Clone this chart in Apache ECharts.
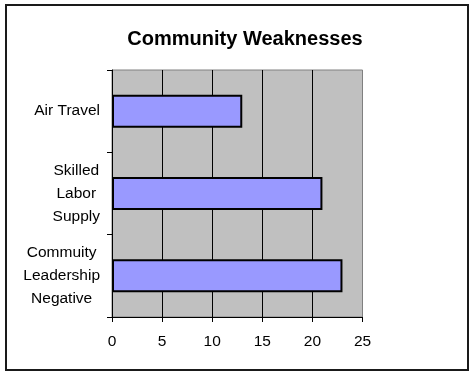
<!DOCTYPE html>
<html>
<head>
<meta charset="utf-8">
<script src="https://cdn.jsdelivr.net/npm/echarts@6/dist/echarts.min.js"></script>
<style>
html,body{margin:0;padding:0;background:#fff;}
#c{width:470px;height:375px;}
</style>
</head>
<body>
<div id="c"></div>
<script>
const title = 'Community Weaknesses';
const categories = ['Air Travel', 'Skilled\nLabor\nSupply', 'Commuity\nLeadership\nNegative'];
const values = [13, 21, 23];
const xTicks = { min: 0, max: 25, interval: 5 };

const chart = echarts.init(document.getElementById('c'), null, { renderer: 'canvas' });
const font = 'Arial, "Liberation Sans", sans-serif';
chart.setOption({
  backgroundColor: '#ffffff',
  animation: false,
  title: {
    text: title,
    left: 240,
    top: 24,
    textAlign: 'center',
    textStyle: { fontFamily: font, fontSize: 20, fontWeight: 'bold', color: '#000' }
  },
  graphic: [{
    type: 'rect',
    shape: { x: 6, y: 5, width: 462, height: 365 },
    style: { fill: 'none', stroke: '#1a1a1a', lineWidth: 2 },
    z: 100
  }],
  grid: {
    left: 112, right: 107.5, top: 70, bottom: 58,
    show: true, backgroundColor: '#C0C0C0', borderColor: '#808080', borderWidth: 1
  },
  xAxis: {
    type: 'value',
    min: xTicks.min, max: xTicks.max, interval: xTicks.interval,
    axisLine: { show: true, lineStyle: { color: '#000', width: 1 } },
    axisTick: { show: true, length: 5, lineStyle: { color: '#000' } },
    axisLabel: { margin: 17, fontFamily: font, fontSize: 15.5, color: '#000' },
    splitLine: { show: true, showMinLine: false, showMaxLine: false, lineStyle: { color: '#000', width: 1 } }
  },
  yAxis: {
    type: 'category',
    inverse: true,
    data: categories,
    axisLine: { show: true, lineStyle: { color: '#000', width: 1 } },
    axisTick: { show: true, length: 5, lineStyle: { color: '#000' } },
    axisLabel: {
      margin: 12,
      align: 'right',
      formatter: function (v) { return v.split('\n').map(function (s) { return '{c|' + s + '}'; }).join('\n'); },
      rich: { c: { align: 'center', fontFamily: font, fontSize: 15.5, lineHeight: 23, color: '#000' } }
    },
    splitLine: { show: false }
  },
  series: [{
    type: 'bar',
    data: values,
    barWidth: '40%',
    itemStyle: { color: '#9999FF', borderColor: '#000', borderWidth: 2 }
  }]
});
</script>
</body>
</html>
